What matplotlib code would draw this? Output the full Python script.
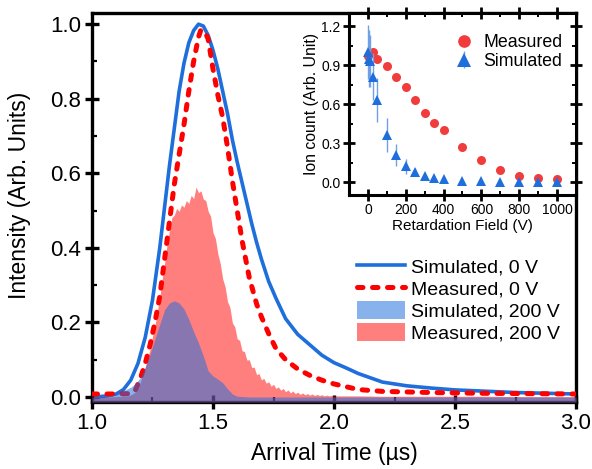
import numpy as np
import matplotlib
matplotlib.use("Agg")
import matplotlib.pyplot as plt
from matplotlib.ticker import MultipleLocator

plt.rcParams['font.family'] = ['Liberation Sans', 'DejaVu Sans']

# --- arrival time traces (µs, normalised intensity) ---
sim0_t = [1.00, 1.05, 1.10, 1.13, 1.16, 1.19, 1.22, 1.25, 1.28, 1.30, 1.32, 1.34,
          1.36, 1.38, 1.40, 1.42, 1.44, 1.46, 1.48, 1.50, 1.52, 1.54, 1.56, 1.58,
          1.60, 1.62, 1.64, 1.66, 1.68, 1.70, 1.73, 1.76, 1.80, 1.85, 1.90, 1.95,
          2.00, 2.05, 2.10, 2.20, 2.30, 2.40, 2.50, 2.75, 3.00]
sim0_y = [0.000, 0.002, 0.008, 0.020, 0.045, 0.090, 0.160, 0.260, 0.400, 0.510,
          0.620, 0.720, 0.820, 0.895, 0.950, 0.983, 1.000, 0.995, 0.970, 0.930,
          0.880, 0.820, 0.760, 0.690, 0.630, 0.575, 0.520, 0.465, 0.415, 0.370,
          0.310, 0.265, 0.210, 0.168, 0.140, 0.112, 0.092, 0.078, 0.063, 0.040,
          0.030, 0.024, 0.019, 0.012, 0.008]

meas0_t = [1.00, 1.05, 1.10, 1.15, 1.17, 1.18, 1.19, 1.20, 1.22, 1.24, 1.26, 1.28,
           1.30, 1.32, 1.34, 1.36, 1.38, 1.40, 1.42, 1.44, 1.45, 1.46, 1.47, 1.48,
           1.50, 1.52, 1.54, 1.56, 1.58, 1.60, 1.62, 1.65, 1.68, 1.70, 1.73, 1.76,
           1.80, 1.85, 1.90, 1.95, 2.00, 2.10, 2.20, 2.40, 2.60, 3.00]
meas0_y = [0.008, 0.008, 0.008, 0.009, 0.012, 0.020, 0.035, 0.050, 0.090, 0.140,
           0.200, 0.270, 0.370, 0.470, 0.570, 0.650, 0.730, 0.820, 0.900, 0.965,
           0.985, 0.980, 0.975, 0.960, 0.880, 0.810, 0.750, 0.670, 0.580, 0.500,
           0.420, 0.320, 0.250, 0.215, 0.170, 0.130, 0.100, 0.075, 0.058, 0.045,
           0.035, 0.020, 0.015, 0.012, 0.010, 0.008]

sim200_t = [1.00, 1.05, 1.08, 1.10, 1.12, 1.14, 1.16, 1.18, 1.20, 1.22, 1.24, 1.26,
            1.28, 1.30, 1.32, 1.34, 1.36, 1.38, 1.40, 1.42, 1.44, 1.46, 1.48, 1.50,
            1.52, 1.54, 1.56, 1.58, 1.60, 1.65, 2.00, 2.50, 3.00]
sim200_y = [0.000, 0.001, 0.004, 0.008, 0.014, 0.020, 0.026, 0.036, 0.052, 0.080,
            0.115, 0.155, 0.195, 0.234, 0.252, 0.258, 0.252, 0.236, 0.208, 0.175,
            0.145, 0.110, 0.070, 0.056, 0.048, 0.038, 0.022, 0.008, 0.002, 0.000,
            0.000, 0.000, 0.000]

# measured 200 V histogram, 10 ns bins from 1.10 µs
meas200_start = 1.10
meas200_bin = 0.01
meas200_peak = [0.001, 0.002, 0.001, 0.003, 0.002, 0.004, 0.006, 0.009, 0.015, 0.026,
                0.040, 0.060, 0.079, 0.106, 0.128, 0.162, 0.190, 0.231, 0.266, 0.315,
                0.358, 0.409, 0.446, 0.481, 0.488, 0.506, 0.498, 0.515, 0.509, 0.527,
                0.519, 0.541, 0.532, 0.563, 0.548, 0.553, 0.531, 0.527, 0.498, 0.485,
                0.441, 0.425, 0.384, 0.358, 0.317, 0.296, 0.256, 0.240, 0.199, 0.188,
                0.156, 0.152, 0.124, 0.122, 0.099, 0.100, 0.079, 0.080, 0.060, 0.063,
                0.046, 0.050, 0.037, 0.041, 0.029, 0.034, 0.023, 0.027, 0.018, 0.023,
                0.014, 0.019, 0.011, 0.016, 0.009, 0.013, 0.007, 0.011, 0.006, 0.009,
                0.005, 0.008, 0.004, 0.007, 0.004, 0.006, 0.003, 0.005, 0.003, 0.004,
                0.003]
meas200_tail_t = [2.10, 2.20, 2.40, 2.60, 2.80, 3.00]
meas200_tail_y = [0.003, 0.002, 0.002, 0.002, 0.001, 0.001]

# --- inset: ion count vs retardation field ---
field_meas = [0, 25, 50, 100, 150, 200, 250, 300, 350, 400, 500, 600, 700, 800, 900, 1000]
count_meas = [0.97, 1.00, 0.945, 0.89, 0.81, 0.73, 0.63, 0.53, 0.455, 0.40,
              0.27, 0.17, 0.092, 0.048, 0.028, 0.023]
field_sim = [0, 5, 10, 25, 50, 100, 150, 200, 250, 300, 350, 400, 500, 600, 700, 800, 900, 1000]
count_sim = [1.00, 0.95, 0.93, 0.81, 0.63, 0.36, 0.21, 0.12, 0.075, 0.045, 0.03, 0.02,
             0.008, 0.004, 0.003, 0.003, 0.003, 0.003]
count_sim_err = [0.21, 0.22, 0.20, 0.18, 0.17, 0.13, 0.085, 0.055, 0.03, 0.02, 0.015, 0.01,
                 0.008, 0.008, 0.015, 0.008, 0.008, 0.008]

BLUE = '#1e6edc'
RED = '#ff0000'

meas200_t = list(np.round(meas200_start + meas200_bin * np.arange(len(meas200_peak)), 2))
meas200_t = [1.00, 1.05] + meas200_t + meas200_tail_t
meas200_y = [0.0, 0.0] + meas200_peak + meas200_tail_y

fig = plt.figure(figsize=(5.92, 4.69), dpi=100)
ax = fig.add_axes([0.1554, 0.1429, 0.8176, 0.8294])
ymin = -0.0134

ax.plot(sim0_t, sim0_y, color=BLUE, lw=2.6, label='Simulated, 0 V', zorder=2)
ax.plot(meas0_t, meas0_y, color=RED, lw=3.6, dashes=(1.1, 1.9),
        dash_capstyle='round', label='Measured, 0 V', zorder=3)
ax.fill_between(meas200_t, meas200_y, ymin, color=RED, alpha=0.5,
                lw=0, label='Measured, 200 V', zorder=4)
ax.fill_between(sim200_t, sim200_y, ymin, color=BLUE, alpha=0.53, lw=0,
                label='Simulated, 200 V', zorder=5)

ax.set_xlim(1.0, 3.0)
ax.set_ylim(ymin, 1.03)
ax.xaxis.set_major_locator(MultipleLocator(0.5))
ax.xaxis.set_minor_locator(MultipleLocator(0.25))
ax.yaxis.set_major_locator(MultipleLocator(0.2))
ax.yaxis.set_minor_locator(MultipleLocator(0.1))
ax.xaxis.set_major_formatter(matplotlib.ticker.FormatStrFormatter('%.1f'))
ax.yaxis.set_major_formatter(matplotlib.ticker.FormatStrFormatter('%.1f'))
ax.tick_params(which='major', direction='inout', length=10, width=2.4, labelsize=16, pad=3)
ax.tick_params(which='minor', direction='in', length=3.5, width=1.6)
for s in ax.spines.values():
    s.set_linewidth(2.4)
ax.set_xlabel('Arrival Time (µs)', fontsize=16.5)
ax.set_ylabel('Intensity (Arb. Units)', fontsize=16.5)
ax.xaxis.set_label_coords(0.5, -0.102)
ax.yaxis.set_label_coords(-0.125, 0.53)

handles, labels = ax.get_legend_handles_labels()
order = [0, 1, 3, 2]
ax.legend([handles[i] for i in order], [labels[i] for i in order],
          loc='upper left', bbox_to_anchor=(0.5475, 0.373), frameon=False,
          fontsize=14, handlelength=2.45, handleheight=1.1, handletextpad=0.35,
          labelspacing=0.1, borderpad=0, borderaxespad=0)

# inset
ins = fig.add_axes([0.5895, 0.5842, 0.3834, 0.388])
ins.plot(field_meas, count_meas, 'o', color='#f03c3c', ms=6.5, mew=0, label='Measured')
ins.errorbar(field_sim, count_sim, yerr=count_sim_err, fmt='^', color=BLUE, ms=7.5,
             mew=0, ecolor='#6f9fe6', elinewidth=1.0, capsize=2, capthick=1.0,
             label='Simulated')
ins.set_xlim(-100, 1100)
ins.set_ylim(-0.1, 1.3)
ins.xaxis.set_major_locator(MultipleLocator(200))
ins.xaxis.set_minor_locator(MultipleLocator(100))
ins.yaxis.set_major_locator(MultipleLocator(0.3))
ins.yaxis.set_minor_locator(MultipleLocator(0.15))
ins.yaxis.set_major_formatter(matplotlib.ticker.FormatStrFormatter('%.1f'))
ins.tick_params(which='major', direction='inout', length=8, width=2, labelsize=10, pad=2)
ins.tick_params(which='minor', direction='in', length=3, width=1.4)
ins.tick_params(which='both', top=True, right=True)
for s in ins.spines.values():
    s.set_linewidth(2.2)
ins.set_xlabel('Retardation Field (V)', fontsize=11, labelpad=1)
ins.set_ylabel('Ion count (Arb. Unit)', fontsize=11.4, labelpad=2)
h, l = ins.get_legend_handles_labels()
ins.legend(h, l, loc='upper left', bbox_to_anchor=(0.467, 0.885), frameon=False,
           fontsize=12.8, handlelength=1.0, handletextpad=0.6, labelspacing=0.1,
           borderpad=0, borderaxespad=0, markerscale=1.4)

fig.savefig('out.png', dpi=100)
